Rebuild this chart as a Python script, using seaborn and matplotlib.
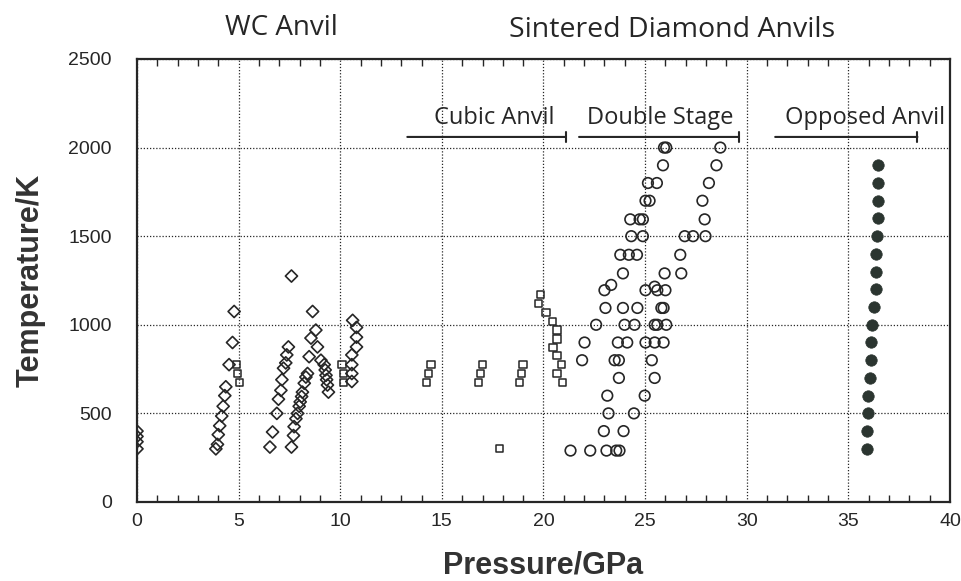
import matplotlib
matplotlib.use("Agg")
import matplotlib.pyplot as plt
from matplotlib.patches import ArrowStyle
from matplotlib.ticker import MultipleLocator
import seaborn as sns
import pandas as pd

# ---- data ----
wc_p = [0, 0, 0, 0,
        3.88, 3.96, 4.0, 4.07, 4.17, 4.24, 4.32, 4.37, 4.53, 4.70, 4.78,
        6.54, 6.67, 6.88, 6.96, 7.08, 7.13, 7.21, 7.32, 7.37, 7.45, 7.60,
        7.60, 7.70, 7.73, 7.82, 7.90, 7.98, 8.03, 8.10, 8.14, 8.23, 8.31, 8.39,
        8.47, 8.56, 8.64, 8.80, 8.88, 9.05, 9.21, 9.26, 9.30, 9.33, 9.37, 9.42,
        10.61, 10.80, 10.80, 10.80, 10.57, 10.57, 10.57, 10.57]
wc_t = [400, 370, 340, 300,
        300, 325, 380, 430, 485, 540, 600, 650, 775, 900, 1075,
        310, 395, 500, 580, 630, 690, 755, 785, 830, 875, 1275,
        310, 375, 425, 470, 500, 540, 565, 595, 620, 670, 705, 725,
        820, 925, 1075, 970, 875, 800, 775, 745, 715, 690, 660, 620,
        1025, 985, 930, 875, 830, 775, 725, 680]

cubic_p = [4.90, 4.95, 5.05, 10.08, 10.16, 10.15,
           14.47, 14.35, 14.25, 17.0, 16.9, 16.8, 19.0, 18.93, 18.82, 17.83,
           19.85, 19.77, 20.13, 20.43, 20.66, 20.66, 20.46, 20.67, 20.90, 20.67, 20.92]
cubic_t = [775, 725, 675, 775, 725, 675,
           775, 725, 675, 775, 725, 675, 775, 725, 675, 300,
           1170, 1120, 1070, 1020, 970, 920, 870, 825, 775, 725, 675]

ds_p = [21.33, 22.30, 23.10, 23.58, 23.74,
        22.97, 23.94,
        23.20, 24.45,
        23.14, 24.98,
        23.71, 25.47,
        21.90, 23.50, 23.71, 25.33,
        22.02, 23.66, 24.12, 25.02, 25.47, 25.91,
        22.59, 23.99, 24.48, 25.47, 25.60, 26.04,
        23.05, 23.91, 24.62, 25.80, 25.91,
        23.00, 23.33, 25.02, 25.47, 25.60, 26.00,
        23.91, 25.96, 26.78,
        23.78, 24.20, 24.60, 26.73,
        24.32, 24.89, 26.95, 27.36, 27.97,
        24.27, 24.73, 24.89, 27.93,
        25.02, 25.22, 27.82,
        25.14, 25.58, 28.14,
        25.88, 28.51,
        25.93, 26.04, 28.70]
ds_t = [290, 290, 290, 290, 290,
        400, 400,
        500, 500,
        600, 600,
        700, 700,
        800, 800, 800, 800,
        900, 900, 900, 900, 900, 900,
        1000, 1000, 1000, 1000, 1000, 1000,
        1095, 1095, 1095, 1095, 1095,
        1195, 1225, 1195, 1215, 1195, 1195,
        1290, 1290, 1290,
        1395, 1395, 1395, 1395,
        1500, 1500, 1500, 1500, 1500,
        1595, 1595, 1595, 1595,
        1700, 1700, 1700,
        1800, 1800, 1800,
        1900, 1900,
        2000, 2000, 2000]

opp_p = [36.47, 36.44, 36.47, 36.47, 36.39, 36.35, 36.35, 36.35, 36.27,
         36.14, 36.11, 36.09, 36.06, 35.98, 35.95, 35.90, 35.90]
opp_t = [1900, 1800, 1700, 1600, 1500, 1400, 1300, 1200, 1100,
         1000, 900, 800, 700, 600, 500, 400, 300]

x_ticks = [0, 5, 10, 15, 20, 25, 30, 35, 40]
y_ticks = [0, 500, 1000, 1500, 2000, 2500]

ink = "#262626"

sns.set_style("white")
plt.rcParams['font.family'] = ['Liberation Sans', 'DejaVu Sans']

fig = plt.figure(figsize=(9.62, 5.81), dpi=100)
ax = fig.add_axes([0.1424, 0.136, 0.8451, 0.7625])

wc = pd.DataFrame({"P": wc_p, "T": wc_t})
cu = pd.DataFrame({"P": cubic_p, "T": cubic_t})
ds = pd.DataFrame({"P": ds_p, "T": ds_t})
op = pd.DataFrame({"P": opp_p, "T": opp_t})

sns.scatterplot(data=wc, x="P", y="T", ax=ax, marker="D", s=38,
                facecolors="none", edgecolors=ink, linewidth=1.2, zorder=3)
sns.scatterplot(data=cu, x="P", y="T", ax=ax, marker="s", s=28,
                facecolors="none", edgecolors=ink, linewidth=1.1, zorder=3)
sns.scatterplot(data=ds, x="P", y="T", ax=ax, marker="o", s=58,
                facecolors="none", edgecolors=ink, linewidth=1.2, zorder=3)
sns.scatterplot(data=op, x="P", y="T", ax=ax, marker="o", s=68,
                color="#2b3530", edgecolor="#2b3530", linewidth=0.5, zorder=3)

ax.set_xlim(0, 40)
ax.set_ylim(0, 2500)
ax.set_xticks(x_ticks)
ax.set_yticks(y_ticks)
ax.set_xticklabels([str(v) for v in x_ticks])
ax.set_yticklabels([str(v) for v in y_ticks])
ax.xaxis.set_minor_locator(MultipleLocator(1))
ax.grid(True, which="major", color=ink, linestyle=(0, (1, 1.5)), linewidth=0.9)
ax.set_axisbelow(True)
for sp in ax.spines.values():
    sp.set_visible(True)
    sp.set_color(ink)
    sp.set_linewidth(1.6)

ax.tick_params(axis="x", which="both", direction="in", top=True, bottom=True,
               color=ink, width=1.0, labelsize=14, pad=8, labelcolor=ink)
ax.tick_params(axis="x", which="major", length=0)
ax.tick_params(axis="x", which="minor", length=5)
ax.tick_params(axis="y", which="both", length=0, labelsize=14, pad=18, labelcolor=ink)

ax.set_xlabel("Pressure/GPa", fontsize=22, fontweight="bold", color="#333333")
ax.set_ylabel("Temperature/K", fontsize=22, fontweight="bold", color="#333333")
ax.xaxis.set_label_coords(0.5, -0.11)
ax.yaxis.set_label_coords(-0.112, 0.5)

# range annotations
anno_font = ['Open Sans', 'DejaVu Sans']
bar_style = ArrowStyle("|-|", widthA=0.0, widthB=0.35)
ranges = [("Cubic Anvil", 13.3, 21.1, 17.6),
          ("Double Stage", 21.75, 29.6, 25.76),
          ("Opposed Anvil", 31.4, 38.4, 35.84)]
for label, x0, x1, xc in ranges:
    ax.annotate("", xy=(x1, 2060), xytext=(x0, 2060),
                arrowprops=dict(arrowstyle=bar_style, color=ink, lw=1.5,
                                shrinkA=0, shrinkB=0))
    ax.text(xc, 2165, label, ha="center", va="center", fontsize=17,
            color=ink, family=anno_font)

title_font = ['Open Sans', 'DejaVu Sans']
fig.text(0.293, 0.952, "WC Anvil", ha="center", va="center", fontsize=20,
         color=ink, family=title_font)
fig.text(0.699, 0.948, "Sintered Diamond Anvils", ha="center", va="center",
         fontsize=20.5, color=ink, family=title_font)

fig.savefig("out.png", dpi=100)
